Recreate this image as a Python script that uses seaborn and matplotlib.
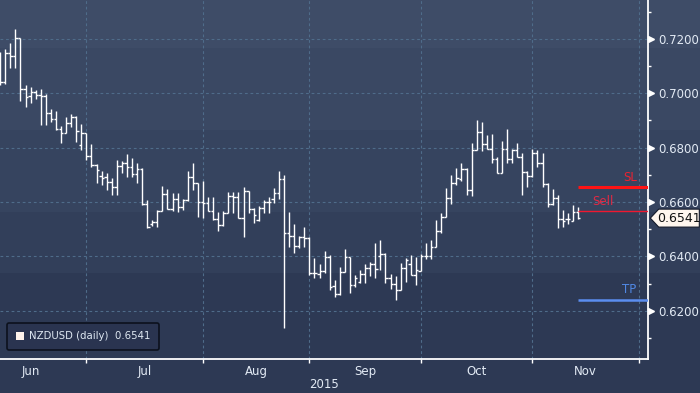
import matplotlib
matplotlib.use("Agg")
import matplotlib.pyplot as plt
import matplotlib.transforms as mtransforms
from matplotlib.colors import to_rgb
from matplotlib.patches import Patch, Polygon
import numpy as np
import pandas as pd
import seaborn as sns

# NZDUSD daily bars, 8 Jun 2015 -> 13 Nov 2015
dates = pd.bdate_range("2015-06-08", periods=115)

opens = [
    0.7053, 0.7042, 0.7148, 0.7137, 0.7203, 0.7016, 0.6990, 0.7005, 0.6994, 0.6990,
    0.6928, 0.6906, 0.6869, 0.6854, 0.6891, 0.6913, 0.6810, 0.6854, 0.6770, 0.6736,
    0.6696, 0.6692, 0.6674, 0.6656, 0.6733, 0.6744, 0.6729, 0.6703, 0.6722, 0.6593,
    0.6520, 0.6527, 0.6567, 0.6630, 0.6575, 0.6612, 0.6582, 0.6608, 0.6692, 0.6670,
    0.6601, 0.6597, 0.6567, 0.6538, 0.6516, 0.6560, 0.6623, 0.6619, 0.6542, 0.6641,
    0.6575, 0.6534, 0.6578, 0.6601, 0.6612, 0.6634, 0.6685, 0.6487, 0.6476, 0.6439,
    0.6472, 0.6468, 0.6339, 0.6336, 0.6347, 0.6398, 0.6292, 0.6262, 0.6343, 0.6398,
    0.6295, 0.6306, 0.6336, 0.6358, 0.6373, 0.6402, 0.6409, 0.6321, 0.6299, 0.6277,
    0.6358, 0.6373, 0.6332, 0.6347, 0.6402, 0.6402, 0.6435, 0.6494, 0.6545, 0.6615,
    0.6670, 0.6685, 0.6722, 0.6645, 0.6792, 0.6858, 0.6814, 0.6795, 0.6759, 0.6707,
    0.6795, 0.6759, 0.6792, 0.6766, 0.6711, 0.6696, 0.6781, 0.6744, 0.6667, 0.6593,
    0.6615, 0.6538, 0.6538, 0.6531, 0.6564,
]
highs = [
    0.7152, 0.7163, 0.7185, 0.7237, 0.7203, 0.7031, 0.7023, 0.7012, 0.7016, 0.6997,
    0.6942, 0.6935, 0.6880, 0.6913, 0.6924, 0.6917, 0.6887, 0.6854, 0.6814, 0.6740,
    0.6714, 0.6707, 0.6689, 0.6755, 0.6751, 0.6777, 0.6762, 0.6744, 0.6725, 0.6608,
    0.6534, 0.6571, 0.6659, 0.6648, 0.6634, 0.6634, 0.6612, 0.6714, 0.6744, 0.6670,
    0.6678, 0.6619, 0.6619, 0.6564, 0.6567, 0.6637, 0.6637, 0.6637, 0.6656, 0.6641,
    0.6578, 0.6586, 0.6608, 0.6619, 0.6652, 0.6714, 0.6700, 0.6564, 0.6520, 0.6476,
    0.6509, 0.6472, 0.6395, 0.6373, 0.6420, 0.6406, 0.6314, 0.6362, 0.6428, 0.6398,
    0.6332, 0.6350, 0.6373, 0.6380, 0.6450, 0.6461, 0.6413, 0.6336, 0.6328, 0.6376,
    0.6395, 0.6406, 0.6398, 0.6409, 0.6450, 0.6461, 0.6534, 0.6560, 0.6652, 0.6700,
    0.6725, 0.6744, 0.6725, 0.6817, 0.6902, 0.6895, 0.6847, 0.6850, 0.6766, 0.6825,
    0.6869, 0.6795, 0.6817, 0.6781, 0.6714, 0.6795, 0.6792, 0.6781, 0.6670, 0.6648,
    0.6626, 0.6571, 0.6560, 0.6590, 0.6582,
]
lows = [
    0.7031, 0.7034, 0.7093, 0.7093, 0.6971, 0.6949, 0.6964, 0.6979, 0.6884, 0.6884,
    0.6895, 0.6865, 0.6817, 0.6854, 0.6876, 0.6821, 0.6792, 0.6755, 0.6729, 0.6670,
    0.6663, 0.6645, 0.6626, 0.6626, 0.6707, 0.6692, 0.6692, 0.6670, 0.6590, 0.6505,
    0.6512, 0.6509, 0.6567, 0.6575, 0.6567, 0.6564, 0.6571, 0.6604, 0.6645, 0.6545,
    0.6542, 0.6567, 0.6534, 0.6494, 0.6512, 0.6560, 0.6560, 0.6542, 0.6472, 0.6560,
    0.6523, 0.6531, 0.6560, 0.6560, 0.6597, 0.6612, 0.6137, 0.6435, 0.6413, 0.6431,
    0.6435, 0.6332, 0.6321, 0.6321, 0.6339, 0.6277, 0.6251, 0.6259, 0.6343, 0.6266,
    0.6288, 0.6303, 0.6303, 0.6328, 0.6321, 0.6350, 0.6303, 0.6281, 0.6240, 0.6277,
    0.6306, 0.6332, 0.6295, 0.6347, 0.6391, 0.6391, 0.6435, 0.6487, 0.6545, 0.6593,
    0.6663, 0.6678, 0.6626, 0.6623, 0.6792, 0.6788, 0.6795, 0.6744, 0.6707, 0.6707,
    0.6744, 0.6744, 0.6766, 0.6626, 0.6656, 0.6692, 0.6729, 0.6656, 0.6582, 0.6590,
    0.6505, 0.6509, 0.6520, 0.6531, 0.6536,
]
closes = [
    0.7042, 0.7148, 0.7137, 0.7203, 0.7016, 0.6986, 0.7005, 0.6994, 0.6990, 0.6928,
    0.6906, 0.6869, 0.6854, 0.6891, 0.6913, 0.6861, 0.6854, 0.6770, 0.6736, 0.6718,
    0.6689, 0.6674, 0.6656, 0.6733, 0.6744, 0.6729, 0.6703, 0.6722, 0.6593, 0.6509,
    0.6527, 0.6567, 0.6630, 0.6575, 0.6612, 0.6582, 0.6608, 0.6692, 0.6670, 0.6601,
    0.6597, 0.6567, 0.6538, 0.6516, 0.6560, 0.6623, 0.6619, 0.6542, 0.6641, 0.6575,
    0.6553, 0.6578, 0.6601, 0.6601, 0.6634, 0.6685, 0.6487, 0.6476, 0.6439, 0.6472,
    0.6468, 0.6339, 0.6339, 0.6347, 0.6398, 0.6288, 0.6262, 0.6343, 0.6398, 0.6295,
    0.6321, 0.6336, 0.6358, 0.6373, 0.6354, 0.6409, 0.6321, 0.6299, 0.6277, 0.6358,
    0.6387, 0.6332, 0.6350, 0.6402, 0.6402, 0.6435, 0.6494, 0.6545, 0.6615, 0.6670,
    0.6689, 0.6722, 0.6645, 0.6792, 0.6858, 0.6814, 0.6795, 0.6759, 0.6707, 0.6795,
    0.6759, 0.6792, 0.6766, 0.6711, 0.6696, 0.6781, 0.6744, 0.6667, 0.6593, 0.6615,
    0.6538, 0.6531, 0.6538, 0.6564, 0.6541,
]

sell_level = 0.6567
stop_loss = 0.6655
take_profit = 0.6240

y_major = [0.62, 0.64, 0.66, 0.68, 0.70, 0.72]
y_minor = [0.61, 0.63, 0.65, 0.67, 0.69, 0.71, 0.73]
series_name = "NZDUSD (daily)"

df = pd.DataFrame({"date": dates, "open": opens, "high": highs,
                   "low": lows, "close": closes})
df["pos"] = np.arange(len(df))
last = df["close"].iloc[-1]

# month boundaries on the trading-day axis
all_days = pd.bdate_range("2015-06-01", "2015-12-31")
day_pos = pd.Series(np.arange(len(all_days)) - all_days.get_loc(dates[0]), index=all_days)
month_start = day_pos.groupby(all_days.to_period("M")).min()
starts = month_start.values
mids = (starts[:-1] + starts[1:]) / 2.0
mid_labels = [p.strftime("%b") for p in month_start.index[:-1]]

sns.set_theme(style="dark", rc={"axes.facecolor": "none", "figure.facecolor": "#2e3a55"})
plt.rcParams["font.family"] = ["DejaVu Sans"]

fig = plt.figure(figsize=(7, 3.93), dpi=100)

# stepped navy background
band_edges = [0, 48, 130, 212, 273, 393]
band_colors = ["#3e4c67", "#3a4863", "#36445f", "#323f5a", "#2d3954"]
rows = np.zeros((393, 1, 3))
for top, bottom, c in zip(band_edges[:-1], band_edges[1:], band_colors):
    rows[top:bottom, 0, :] = to_rgb(c)
bg = fig.add_axes([0, 0, 1, 1], zorder=0)
bg.imshow(rows, aspect="auto", extent=[0, 1, 0, 1])
bg.axis("off")

ax = fig.add_axes([0, 34 / 393, 648 / 700, 359 / 393], zorder=1)
ax.set_facecolor("none")

xmin, xmax = -0.04, 127.8

grid_kw = dict(color="#4f6c8a", lw=0.8, ls=(0, (2.5, 2.5)), zorder=1)
for y in y_major:
    ax.axhline(y, **grid_kw)
for s in starts:
    ax.axvline(s, **grid_kw)

# OHLC bars
bar_kw = dict(color="white", lw=1.0, zorder=3)
ax.vlines(df["pos"], df["low"], df["high"], **bar_kw)
ax.hlines(df["open"], df["pos"] - 0.48, df["pos"], **bar_kw)
ax.hlines(df["close"], df["pos"], df["pos"] + 0.48, **bar_kw)

# trade levels
x_last = df["pos"].iloc[-1]
ax.hlines(stop_loss, x_last, xmax, color="#ff1414", lw=2.2, zorder=4)
ax.hlines(sell_level, x_last, xmax, color="#f01830", lw=1.0, zorder=4)
ax.hlines(take_profit, x_last, xmax, color="#5b8ef0", lw=1.8, zorder=4)
ax.annotate("SL", (124.2, stop_loss), xytext=(0, 2), textcoords="offset points",
            ha="center", va="bottom", color="#ec2230", fontsize=8.5)
ax.annotate("Sell", (118.9, sell_level), xytext=(0, 2), textcoords="offset points",
            ha="center", va="bottom", color="#e22a44", fontsize=8.5)
ax.annotate("TP", (124.0, take_profit), xytext=(0, 3), textcoords="offset points",
            ha="center", va="bottom", color="#5088e4", fontsize=8.5)

# axes styling
sns.despine(ax=ax, left=True, top=True, right=False, bottom=False)
for side in ("right", "bottom"):
    ax.spines[side].set_color("white")
    ax.spines[side].set_linewidth(1.3)
ax.grid(False)

ax.yaxis.tick_right()
ax.set_yticks(y_major)
ax.set_yticklabels([f"{v:.4f}" for v in y_major])
ax.set_yticks(y_minor, minor=True)
ax.tick_params(axis="y", which="major", length=0, pad=7.5, labelsize=8.5,
               labelcolor="#e2eaf4")
ax.tick_params(axis="y", which="minor", length=2.5, width=1, color="white", right=True)

ax.set_xticks(starts)
ax.set_xticklabels([])
ax.set_xticks(mids, minor=True)
ax.set_xticklabels(mid_labels, minor=True)
ax.tick_params(axis="x", which="major", length=3, width=1, color="white", bottom=True)
ax.tick_params(axis="x", which="minor", length=0, pad=4, labelsize=8.5,
               labelcolor="#e2eaf4")

# limits after the ticks, so the off-screen month ticks don't widen the view
ax.set_xlim(xmin, xmax)
ax.set_ylim(0.6023, 0.7343)

ybl = mtransforms.blended_transform_factory(ax.transAxes, ax.transData)
ax.plot(np.full(len(y_major), 1.005), y_major, transform=ybl, marker=">", ms=5,
        color="white", ls="none", clip_on=False, zorder=5)

fig.text(324 / 700, 0.022, "2015", ha="center", va="center", fontsize=8.5,
         color="#e2eaf4")

# last price tag
ftr = mtransforms.blended_transform_factory(fig.transFigure, ax.transData)
h = 0.0033
tag = Polygon([(0.929, last), (0.941, last + h), (0.999, last + h),
               (0.999, last - h), (0.941, last - h)], closed=True, transform=ftr,
              facecolor="#fff6ee", edgecolor="#141a2a", lw=0.8, clip_on=False, zorder=6)
ax.add_patch(tag)
ax.text(0.970, last, f"{last:.4f}", transform=ftr, ha="center", va="center",
        fontsize=9, color="#111111", zorder=7)

# legend
handle = Patch(facecolor="#fff3ec", edgecolor="none")
leg = ax.legend([handle], [f"{series_name}  {last:.4f}"], loc="lower left",
                bbox_to_anchor=(0.011, 0.025), borderaxespad=0, frameon=True,
                fancybox=True, facecolor="#2a3450", edgecolor="#0c111d",
                framealpha=1, fontsize=7.3, labelcolor="#dfe8f2",
                handlelength=0.8, handleheight=0.8, handletextpad=0.5,
                borderpad=0.85)
leg.get_frame().set_linewidth(1.2)

fig.savefig("out.png", dpi=100)
